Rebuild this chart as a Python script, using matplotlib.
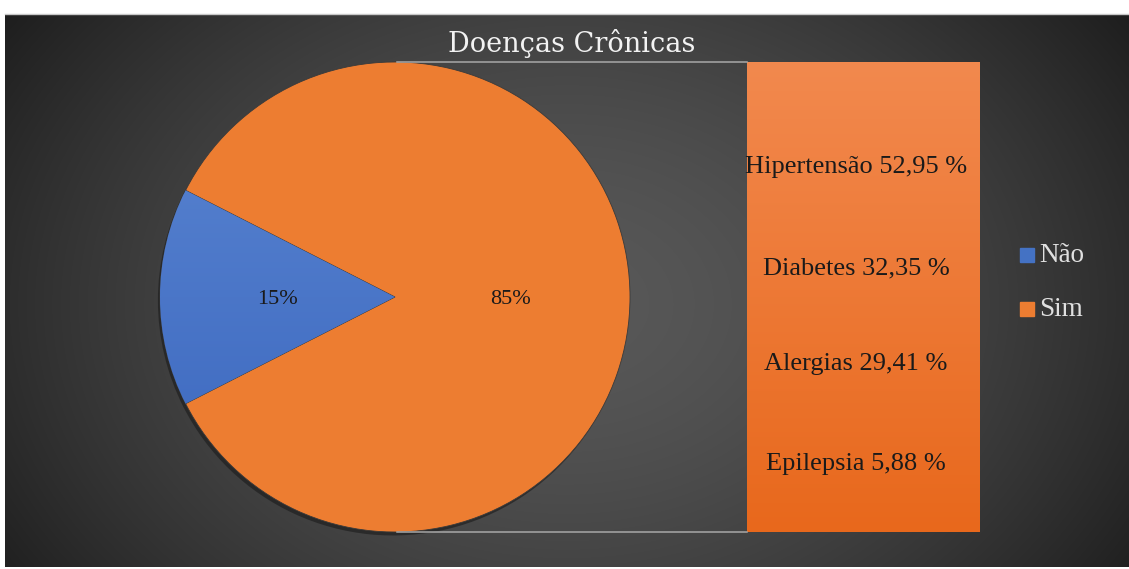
import numpy as np
import matplotlib
matplotlib.use("Agg")
import matplotlib.pyplot as plt
from matplotlib.patches import Rectangle
from matplotlib.lines import Line2D
import matplotlib.patheffects as pe

# ---- data ----
pie_labels = ['Não', 'Sim']
pie_values = [15, 85]
pie_texts = ['15%', '85%']
bar_labels = ['Hipertensão', 'Diabetes', 'Alergias', 'Epilepsia']
bar_values = [52.95, 32.35, 29.41, 5.88]
title = 'Doenças Crônicas'

W, H = 1129, 569
plt.rcParams['font.family'] = ['Liberation Serif', 'DejaVu Serif']
fig = plt.figure(figsize=(W / 100, H / 100), dpi=100)
fig.patch.set_facecolor('white')

def fx(px):
    return px / W

def fy(py):
    return 1 - py / H

# ---- background (radial gradient) ----
bx0, by0, bx1, by1 = 5, 14, 1129, 567
axbg = fig.add_axes([fx(bx0), fy(by1), fx(bx1 - bx0), (by1 - by0) / H])
axbg.set_axis_off()
gx, gy = np.meshgrid(np.linspace(-1, 1, 600), np.linspace(-1, 1, 300))
cx, cy = 0.0, 0.05
r = np.sqrt(((gx - cx) / 1.05) ** 2 + ((gy - cy) / 1.6) ** 2)
val = 0.345 - 0.18 * np.clip(r, 0, 1.2) ** 1.6
img = np.dstack([val, val, val])
axbg.imshow(np.clip(img, 0, 1), aspect='auto', extent=[0, 1, 0, 1], interpolation='bilinear')
axbg.set_xlim(0, 1)
axbg.set_ylim(0, 1)
fig.add_artist(Line2D([fx(bx0), 1], [fy(by0), fy(by0)], color='#c8c8c8', lw=1.0))

# ---- pie ----
blue = '#4472C4'
orange = '#ED7D31'
pcx, pcy, pr = 395, 297, 235
axp = fig.add_axes([fx(pcx - pr), fy(pcy + pr), fx(2 * pr), 2 * pr / H])
axp.set_axis_off()
half = pie_values[0] / sum(pie_values) * 360 / 2
wedges, _ = axp.pie(pie_values, colors=[blue, orange], startangle=180 - half,
                    counterclock=True, radius=1.0,
                    wedgeprops=dict(linewidth=0.6, edgecolor='#3a3a3a'))
for w in wedges:
    w.set_path_effects([pe.SimplePatchShadow(offset=(-1.5, -2.5), shadow_rgbFace='#1a1a1a', alpha=0.6),
                        pe.Normal()])
# gradient on blue wedge
grad = np.linspace(0, 1, 256).reshape(-1, 1)
cmap_b = matplotlib.colors.LinearSegmentedColormap.from_list('b', ['#3A66BE', '#5B86D2'])
im = axp.imshow(grad, cmap=cmap_b, extent=[-1, 1, -1, 1], origin='lower', aspect='auto', zorder=1.5)
im.set_clip_path(wedges[0])
axp.set_xlim(-1, 1)
axp.set_ylim(-1, 1)
axp.set_aspect('auto')
axp.text(-0.50, -0.01, pie_texts[0], ha='center', va='center', fontsize=16, color='#1a1a1a', zorder=5)
axp.text(0.49, -0.01, pie_texts[1], ha='center', va='center', fontsize=16, color='#1a1a1a', zorder=5)

# ---- bar of pie ----
bl, bt, br, bb = 747, 62, 980, 532
axb = fig.add_axes([fx(bl), fy(bb), fx(br - bl), (bb - bt) / H])
axb.set_axis_off()
bars = axb.bar([0], [pie_values[1]], width=1.0, color=orange, linewidth=0)
axb.set_xlim(-0.5, 0.5)
axb.set_ylim(0, pie_values[1])
cmap_o = matplotlib.colors.LinearSegmentedColormap.from_list('o', ['#E8681C', '#F2894E'])
imb = axb.imshow(grad, cmap=cmap_o, extent=[-0.5, 0.5, 0, pie_values[1]], origin='lower',
                 aspect='auto', zorder=3)
imb.set_clip_path(bars[0])
label_y = [167, 268, 364, 464]
for lab, v, py in zip(bar_labels, bar_values, label_y):
    s = f"{lab} {v:.2f} %".replace('.', ',')
    axb.text(-0.032, (bb - py) / (bb - bt) * pie_values[1], s, ha='center', va='center',
             fontsize=19, color='#1a1a1a', zorder=5, clip_on=False)

# ---- connector lines ----
fig.add_artist(Line2D([fx(pcx + 2), fx(bl)], [fy(bt), fy(bt)], color='#a8a8a8', lw=1.1))
fig.add_artist(Line2D([fx(pcx + 2), fx(bl)], [fy(bb), fy(bb)], color='#a8a8a8', lw=1.1))

# ---- title ----
fig.text(fx(572), fy(44), title, ha='center', va='center', fontsize=19.5, color='#f2f2f2',
         family=['DejaVu Serif'])

# ---- legend ----
for i, (lab, col) in enumerate(zip(pie_labels, [blue, orange])):
    py = 255 + i * 54
    fig.patches.append(Rectangle((fx(1020), fy(py + 7)), fx(14), 14 / H, color=col,
                                 transform=fig.transFigure, figure=fig))
    fig.text(fx(1039), fy(py), lab, ha='left', va='center', fontsize=19.5, color='#e0e0e0')

fig.savefig('out.png', dpi=100, facecolor='white')
